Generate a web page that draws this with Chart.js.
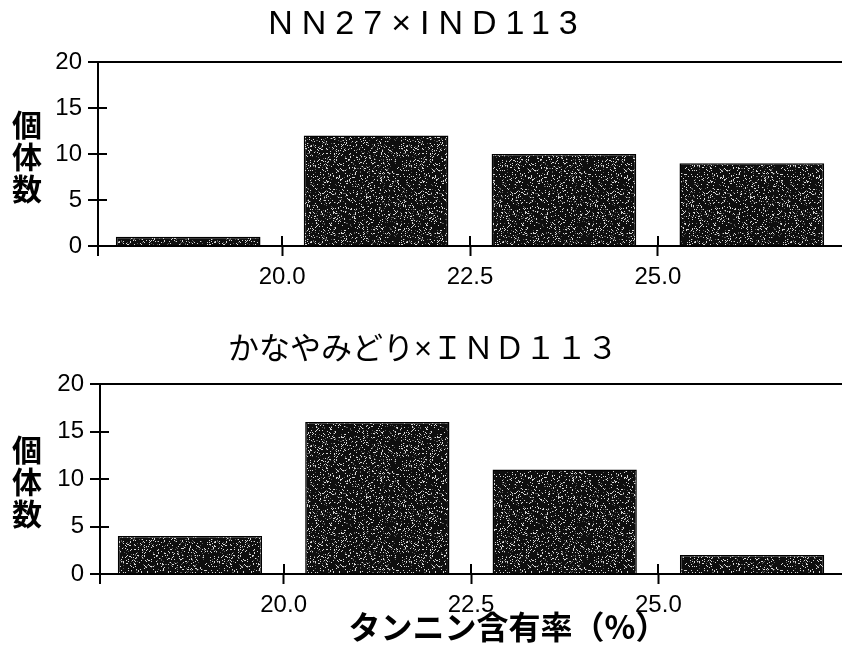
<!DOCTYPE html>
<html lang="ja">
<head>
<meta charset="utf-8">
<title>タンニン含有率の分布</title>
<script src="https://cdn.jsdelivr.net/npm/chart.js@4/dist/chart.umd.min.js"></script>
<style>
  html, body { margin: 0; padding: 0; background: #fff; }
  #wrap { position: relative; width: 842px; height: 654px; }
  #c1 { position: absolute; left: 0; top: 0; }
  #c2 { position: absolute; left: 0; top: 300px; }
</style>
</head>
<body>
<div id="wrap">
  <canvas id="c1" width="842" height="300"></canvas>
  <canvas id="c2" width="842" height="354"></canvas>
</div>
<script>
// Histogram bins (tannin content, %), centre of each 2.5 % class
const binCenters = [18.75, 21.25, 23.75, 26.25];
// Number of individuals per class
const countsNN27 = [1, 12, 10, 9];
const countsKanayamidori = [4, 16, 11, 2];
// Axis ticks
const xTickValues = [20.0, 22.5, 25.0];
const yTickStep = 5;
const yMax = 20;
// Texts
const titleTop = 'NN27×IND113';
const titleBottom = 'かなやみどり×ＩＮＤ１１３';
const yAxisLabel = '個体数';
const xAxisLabel = 'タンニン含有率（%）';

const LATIN = '"Liberation Sans", Arial, sans-serif';
const MIXED = '"Liberation Sans", "Noto Sans CJK JP", sans-serif';
const CJK = '"Noto Sans CJK JP", sans-serif';

Chart.defaults.font.family = LATIN;
Chart.defaults.color = '#000';

// Stippled dark fill for the bars (deterministic hash speckle)
function stipple(ctx) {
  const n = 96;
  const c = document.createElement('canvas');
  c.width = n; c.height = n;
  const g = c.getContext('2d');
  const img = g.createImageData(n, n);
  for (let y = 0; y < n; y++) {
    for (let x = 0; x < n; x++) {
      let h = (Math.imul(x, 374761393) + Math.imul(y, 668265263)) | 0;
      h = Math.imul(h ^ (h >>> 13), 1274126177);
      h ^= h >>> 16;
      const v = (h >>> 0) % 100;
      const val = v < 10 ? 215 : (v < 16 ? 90 : 14);
      const i = (y * n + x) * 4;
      img.data[i] = img.data[i + 1] = img.data[i + 2] = val;
      img.data[i + 3] = 255;
    }
  }
  g.putImageData(img, 0, 0);
  return ctx.createPattern(c, 'repeat');
}

// Panel texts and axis decorations: title, ticks crossing the axes,
// stacked y label, x label
const axisDecor = {
  id: 'axisDecor',
  afterDraw(chart, args, opts) {
    const { ctx, chartArea, scales } = chart;
    const x = scales.x, y = scales.y;
    ctx.save();
    ctx.strokeStyle = '#000';
    ctx.lineWidth = 2;
    ctx.beginPath();
    y.ticks.forEach(t => {
      const py = Math.round(y.getPixelForValue(t.value));
      ctx.moveTo(chartArea.left, py);
      ctx.lineTo(chartArea.left + 9, py);
    });
    x.ticks.forEach(t => {
      const px = Math.round(x.getPixelForValue(t.value));
      ctx.moveTo(px, chartArea.bottom);
      ctx.lineTo(px, chartArea.bottom - 10);
    });
    ctx.moveTo(chartArea.left, chartArea.bottom);
    ctx.lineTo(chartArea.left, chartArea.bottom + 10);
    ctx.stroke();

    ctx.fillStyle = '#000';
    ctx.textAlign = 'center';
    ctx.textBaseline = 'middle';

    if (opts.title) {
      const t = opts.title;
      ctx.font = t.font;
      if ('letterSpacing' in ctx) ctx.letterSpacing = (t.spacing || 0) + 'px';
      ctx.fillText(t.text, t.x + (t.spacing || 0) / 2, t.y);
      if ('letterSpacing' in ctx) ctx.letterSpacing = '0px';
    }
    if (opts.yLabel) {
      ctx.font = 'bold 30px ' + CJK;
      const chars = Array.from(opts.yLabel);
      const cy = (chartArea.top + chartArea.bottom) / 2 + 3;
      const pitch = 32;
      chars.forEach((ch, i) => {
        ctx.fillText(ch, 27, cy + (i - (chars.length - 1) / 2) * pitch);
      });
    }
    if (opts.xLabel) {
      ctx.font = 'bold 32px ' + CJK;
      ctx.fillText(opts.xLabel, 508, chart.height - 27);
    }
    ctx.restore();
  }
};

function makeChart(canvas, counts, top, yWidth, xHeight, decor) {
  const ctx = canvas.getContext('2d');
  return new Chart(ctx, {
    type: 'bar',
    data: {
      datasets: [{
        data: binCenters.map((c, i) => ({ x: c, y: counts[i] })),
        backgroundColor: stipple(ctx),
        borderColor: '#000',
        borderWidth: 1.5,
        barPercentage: 0.77,
        categoryPercentage: 1.0
      }]
    },
    options: {
      responsive: false,
      animation: false,
      events: [],
      layout: { padding: { left: 0, right: 0, top: top, bottom: 0 } },
      plugins: {
        legend: { display: false },
        tooltip: { enabled: false },
        title: { display: false },
        axisDecor: decor
      },
      scales: {
        x: {
          type: 'linear',
          min: 17.55,
          max: 27.45,
          offset: false,
          afterBuildTicks: s => { s.ticks = xTickValues.map(v => ({ value: v })); },
          afterFit: s => { s.height = xHeight; },
          ticks: {
            font: { size: 24 },
            color: '#000',
            padding: 7,
            maxRotation: 0,
            autoSkip: false,
            callback: v => Number(v).toFixed(1)
          },
          grid: {
            offset: false,
            drawOnChartArea: false,
            drawTicks: true,
            tickLength: 10,
            tickColor: '#000',
            tickWidth: 2
          },
          border: { display: true, color: '#000', width: 2 }
        },
        y: {
          min: 0,
          max: yMax,
          afterFit: s => { s.width = yWidth; },
          ticks: {
            stepSize: yTickStep,
            font: { size: 24 },
            color: '#000',
            padding: 6
          },
          grid: {
            offset: false,
            drawOnChartArea: true,
            color: c => (c.tick && c.tick.value === yMax) ? '#000' : 'rgba(0,0,0,0)',
            lineWidth: 2,
            drawTicks: true,
            tickLength: 10,
            tickColor: '#000',
            tickWidth: 2
          },
          border: { display: true, color: '#000', width: 2 }
        }
      }
    },
    plugins: [axisDecor]
  });
}

makeChart(document.getElementById('c1'), countsNN27, 62, 98, 54, {
  title: { text: titleTop, font: 'normal 34px ' + LATIN, spacing: 9, x: 423, y: 25 },
  yLabel: yAxisLabel
});
makeChart(document.getElementById('c2'), countsKanayamidori, 84, 100, 80, {
  title: { text: titleBottom, font: 'normal 31px ' + MIXED, spacing: 0, x: 423, y: 50 },
  yLabel: yAxisLabel,
  xLabel: xAxisLabel
});
</script>
</body>
</html>
